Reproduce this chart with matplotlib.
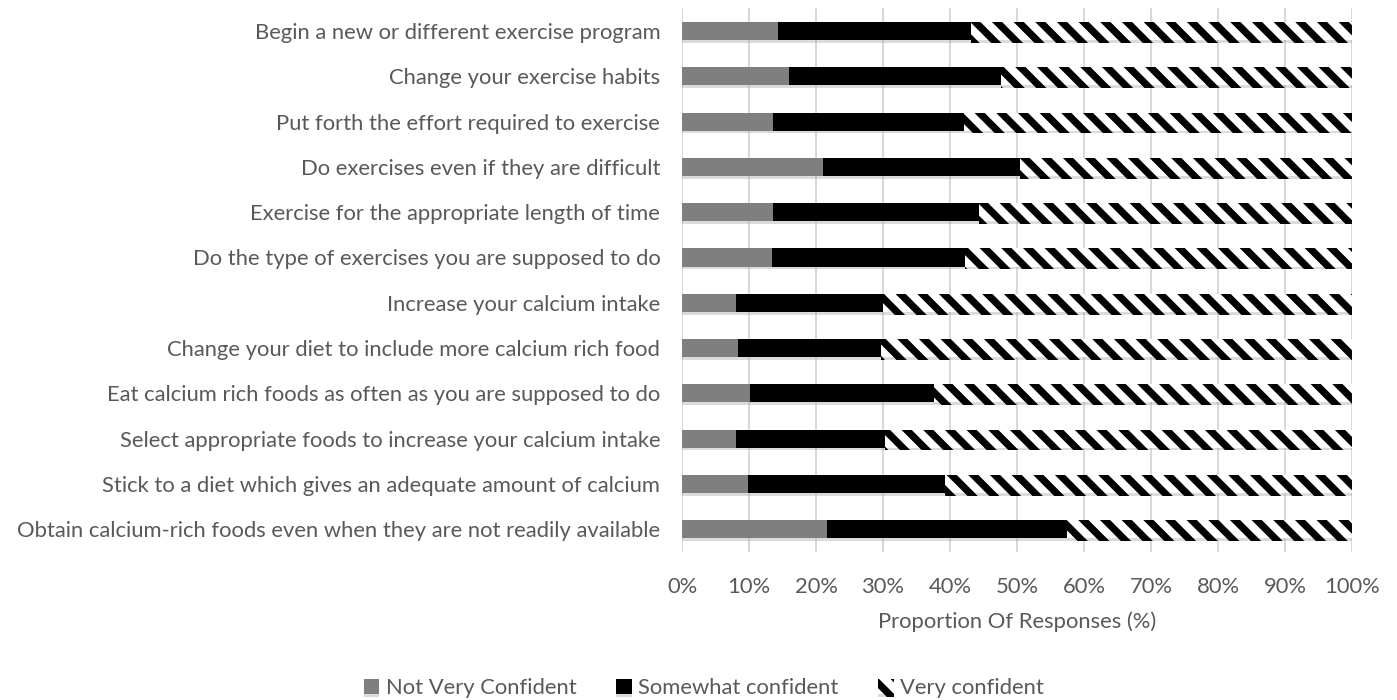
import numpy as np
import matplotlib
matplotlib.use("Agg")
from matplotlib import pyplot as plt
from matplotlib import patheffects as pe

statements = [
    "Begin a new or different exercise program",
    "Change your exercise habits",
    "Put forth the effort required to exercise",
    "Do exercises even if they are difficult",
    "Exercise for the appropriate length of time",
    "Do the type of exercises you are supposed to do",
    "Increase your calcium intake",
    "Change your diet to include more calcium rich food",
    "Eat calcium rich foods as often as you are supposed to do",
    "Select appropriate foods to increase your calcium intake",
    "Stick to a diet which gives an adequate amount of calcium",
    "Obtain calcium-rich foods even when they are not readily available",
]
not_very = [14.3, 15.9, 13.6, 21.1, 13.6, 13.4, 8.0, 8.3, 10.2, 8.0, 9.9, 21.6]
somewhat = [28.8, 31.7, 28.5, 29.4, 30.8, 28.8, 22.0, 21.4, 27.4, 22.3, 29.4, 35.8]
very = [56.9, 52.4, 57.9, 49.5, 55.6, 57.8, 70.0, 70.3, 62.4, 69.7, 60.7, 42.6]
series_names = ["Not Very Confident", "Somewhat confident", "Very confident"]
xticks = np.arange(0, 101, 10)

plt.rcParams['font.family'] = ['Lato', 'DejaVu Sans']
plt.rcParams['hatch.linewidth'] = 4.0
plt.rcParams['hatch.color'] = 'black'
text_col = '#595959'

fig = plt.figure(figsize=(1397 / 130, 700 / 130), dpi=130)
ax = fig.add_axes([682 / 1397, 1 - 552 / 700, 670 / 1397, 543.7 / 700])

y = np.arange(len(statements))
shadow = [pe.SimplePatchShadow(offset=(0, -1.5), shadow_rgbFace='#999999', alpha=0.35), pe.Normal()]

left = np.zeros(len(statements))
b1 = ax.barh(y, not_very, left=left, height=0.4, color='#7f7f7f', label=series_names[0])
left += np.array(not_very)
b2 = ax.barh(y, somewhat, left=left, height=0.4, color='black', label=series_names[1])
left += np.array(somewhat)
b3 = ax.barh(y, very, left=left, height=0.4, color='white', hatch='\\\\', edgecolor='black',
             linewidth=0, label=series_names[2])
for bars in (b1, b2, b3):
    for p in bars:
        p.set_path_effects(shadow)

ax.set_xlim(0, 100)
ax.set_ylim(len(statements) - 0.5, -0.5)
ax.set_yticks(y)
ax.set_yticklabels(statements, fontsize=12.2, color=text_col)
ax.set_xticks(xticks)
ax.set_xticklabels([f"{v}%" for v in xticks], fontsize=12.2, color=text_col)
ax.tick_params(axis='y', length=0, pad=12)
ax.tick_params(axis='x', length=0, pad=14)
ax.set_xlabel("Proportion Of Responses (%)", fontsize=12.2, color=text_col, labelpad=8)
ax.xaxis.grid(True, color='#d9d9d9', linewidth=1.1)
ax.set_axisbelow(True)
for s in ax.spines.values():
    s.set_visible(False)

leg = fig.legend(handles=[b1, b2, b3], labels=series_names, loc='center',
                 bbox_to_anchor=(704 / 1397, 1 - 688 / 700), ncol=3, frameon=False,
                 fontsize=12.2, handlelength=0.7, handleheight=0.7, handletextpad=0.3,
                 columnspacing=1.8)
for t in leg.get_texts():
    t.set_color(text_col)

fig.savefig("out.png", dpi=130)
